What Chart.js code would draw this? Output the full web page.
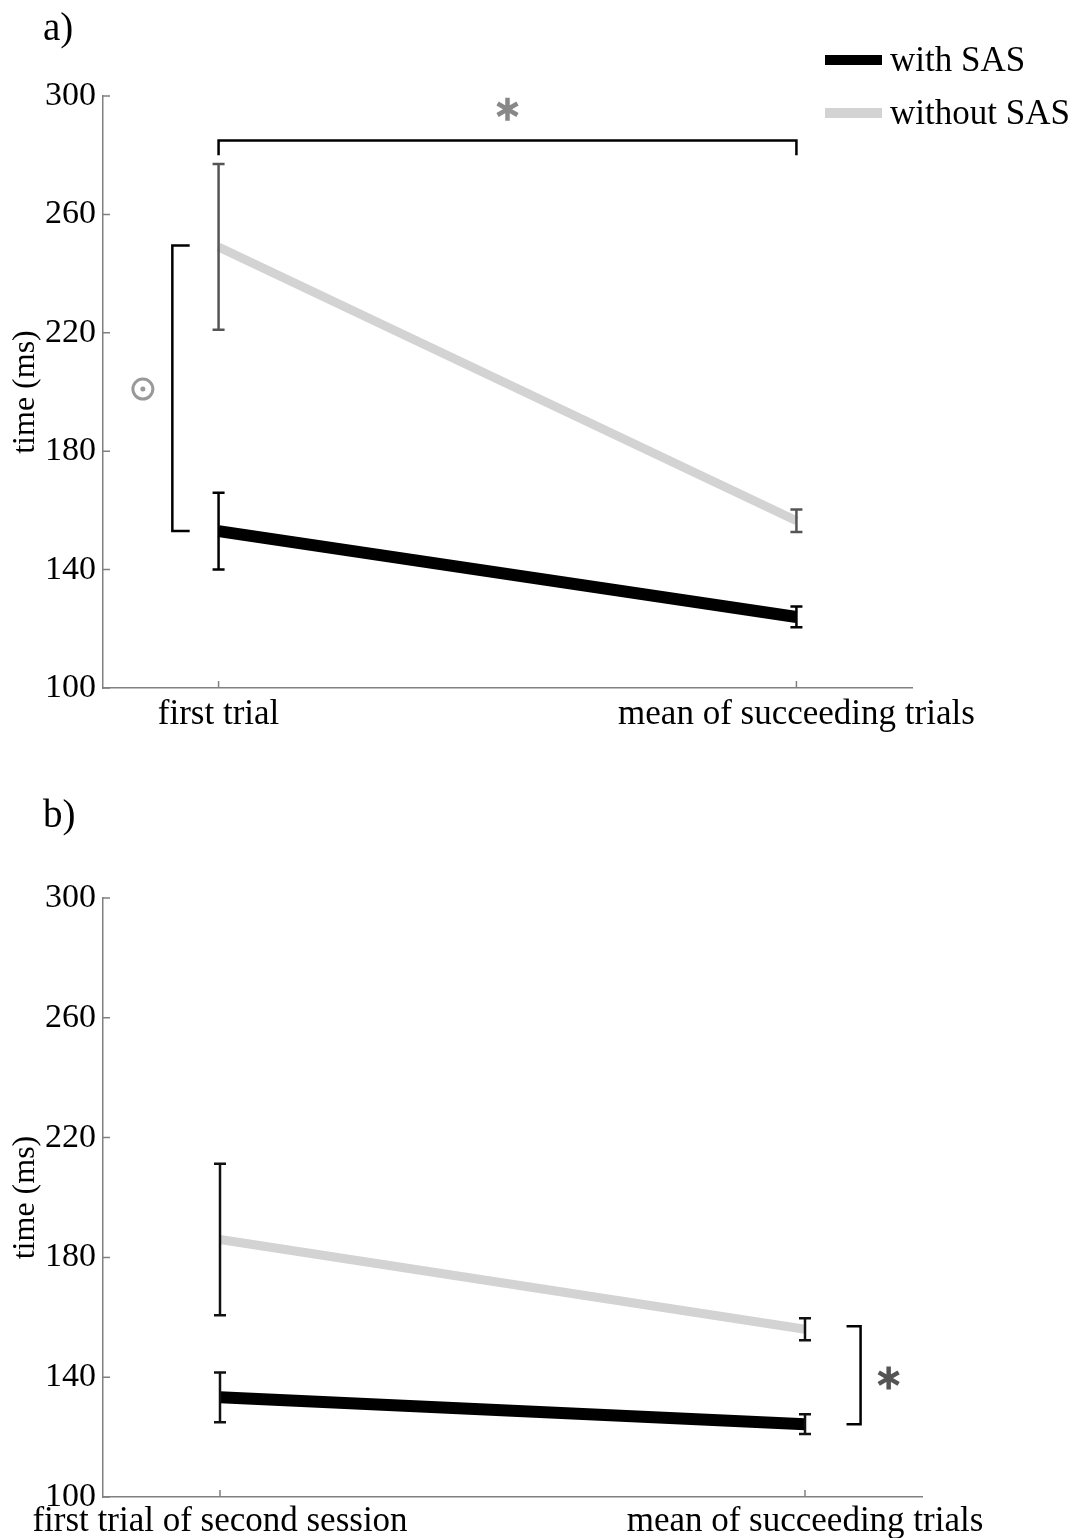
<!DOCTYPE html>
<html><head><meta charset="utf-8">
<script src="https://cdn.jsdelivr.net/npm/chart.js@4.4.0/dist/chart.umd.min.js"></script>
<style>
html,body{margin:0;padding:0;background:#fff;}
body{width:1071px;height:1538px;position:relative;overflow:hidden;font-family:"Liberation Serif","Times New Roman",serif;}
.panel{position:absolute;left:0;width:1071px;}
#wa{top:0;height:770px;}
#wb{top:770px;height:768px;}
.lab{position:absolute;left:43px;font-size:39px;line-height:1;color:#000;}
</style></head><body>
<div class="panel" id="wa"><canvas id="ca"></canvas></div>
<div class="panel" id="wb"><canvas id="cb"></canvas></div>
<div class="lab" style="top:7px">a)</div>
<div class="lab" style="top:794px">b)</div>
<script>
// ---- data ----
const seriesNames = ['with SAS', 'without SAS'];
const categoriesA = ['first trial', 'mean of succeeding trials'];
const categoriesB = ['first trial of second session', 'mean of succeeding trials'];
const xPositions = [1, 2];
const yTicks = [100, 140, 180, 220, 260, 300];

const withSAS_A = [153, 124];
const withSAS_A_err = [13, 3.5];
const withoutSAS_A = [249, 156.5];
const withoutSAS_A_err = [28, 3.8];

const withSAS_B = [133.3, 124.3];
const withSAS_B_err = [8.3, 3.3];
const withoutSAS_B = [186, 156];
const withoutSAS_B_err = [25.3, 3.7];

// ---- styling / annotations ----
const FONT = '"Liberation Serif", "Times New Roman", serif';
const AXIS = '#808080';

function pts(vals){ return vals.map((v,i)=>({x:xPositions[i], y:v})); }

function makeExtras(cfg){
  return {
    id:'extras',
    afterDatasetsDraw(chart){
      const ctx = chart.ctx, xs = chart.scales.x, ys = chart.scales.y;
      ctx.save();
      // error bars
      cfg.errors.forEach(e=>{
        ctx.strokeStyle = e.color; ctx.lineWidth = 2.5; ctx.lineCap='butt';
        e.vals.forEach((v,i)=>{
          const x = xs.getPixelForValue(xPositions[i]);
          const y1 = ys.getPixelForValue(v + e.err[i]);
          const y2 = ys.getPixelForValue(v - e.err[i]);
          ctx.beginPath();
          ctx.moveTo(x,y1); ctx.lineTo(x,y2);
          ctx.moveTo(x-6,y1); ctx.lineTo(x+6,y1);
          ctx.moveTo(x-6,y2); ctx.lineTo(x+6,y2);
          ctx.stroke();
        });
      });
      // brackets
      (cfg.brackets||[]).forEach(b=>{
        ctx.strokeStyle = '#000'; ctx.lineWidth = 2.5; ctx.lineJoin='miter';
        ctx.beginPath();
        if (b.type==='h'){
          const x1=xs.getPixelForValue(b.x1), x2=xs.getPixelForValue(b.x2);
          const y=ys.getPixelForValue(b.y), ye=ys.getPixelForValue(b.yEnd);
          ctx.moveTo(x1,ye); ctx.lineTo(x1,y); ctx.lineTo(x2,y); ctx.lineTo(x2,ye);
        } else {
          const x=xs.getPixelForValue(b.x), xe=xs.getPixelForValue(b.xEnd);
          const y1=ys.getPixelForValue(b.y1), y2=ys.getPixelForValue(b.y2);
          ctx.moveTo(xe,y1); ctx.lineTo(x,y1); ctx.lineTo(x,y2); ctx.lineTo(xe,y2);
        }
        ctx.stroke();
      });
      // asterisks
      (cfg.stars||[]).forEach(s=>{
        const cx=xs.getPixelForValue(s.x), cy=ys.getPixelForValue(s.y);
        ctx.strokeStyle=s.color; ctx.lineWidth=4.5; ctx.lineCap='butt';
        const r=11.5;
        ctx.beginPath();
        [90,30,150].forEach(a=>{
          const t=a*Math.PI/180;
          ctx.moveTo(cx-r*Math.cos(t), cy-r*Math.sin(t));
          ctx.lineTo(cx+r*Math.cos(t), cy+r*Math.sin(t));
        });
        ctx.stroke();
      });
      // circled dot
      (cfg.circles||[]).forEach(c=>{
        const cx=xs.getPixelForValue(c.x), cy=ys.getPixelForValue(c.y);
        ctx.strokeStyle=c.color; ctx.fillStyle=c.color; ctx.lineWidth=3;
        ctx.beginPath(); ctx.arc(cx,cy,10,0,Math.PI*2); ctx.stroke();
        ctx.beginPath(); ctx.arc(cx,cy,2.5,0,Math.PI*2); ctx.fill();
      });
      ctx.restore();
    },
    afterDraw(chart){
      const ctx = chart.ctx, xs = chart.scales.x, ys = chart.scales.y, ca = chart.chartArea;
      ctx.save();
      ctx.strokeStyle = AXIS; ctx.lineWidth = 1.5;
      ctx.beginPath();
      yTicks.forEach(v=>{ const y=ys.getPixelForValue(v); ctx.moveTo(ca.left,y); ctx.lineTo(ca.left+7,y); });
      xPositions.forEach(v=>{ const x=xs.getPixelForValue(v); ctx.moveTo(x,ca.bottom); ctx.lineTo(x,ca.bottom-7); });
      ctx.stroke();
      // legend
      if (cfg.legend){
        const L = cfg.legend;
        chart.data.datasets.forEach((d,i)=>{
          const y = L.y + i*L.dy;
          ctx.strokeStyle = d.borderColor; ctx.lineWidth = 10; ctx.lineCap='butt';
          ctx.beginPath(); ctx.moveTo(L.x, y); ctx.lineTo(L.x+57, y); ctx.stroke();
          ctx.fillStyle='#000'; ctx.font = '35px ' + FONT; ctx.textBaseline='middle'; ctx.textAlign='left';
          ctx.fillText(d.label, L.x+65, y+2);
        });
      }
      ctx.restore();
    }
  };
}

function makeChart(id, cats, withV, withoutV, pad, xAxisH, xPad, extras){
  return new Chart(document.getElementById(id), {
    type:'line',
    data:{datasets:[
      {label:seriesNames[0], data:pts(withV), borderColor:'#000', borderWidth:12, pointRadius:0, borderCapStyle:'butt', tension:0},
      {label:seriesNames[1], data:pts(withoutV), borderColor:'#d3d3d3', borderWidth:9, pointRadius:0, borderCapStyle:'butt', tension:0}
    ]},
    options:{
      responsive:true, maintainAspectRatio:false, animation:false,
      layout:{padding:pad},
      plugins:{legend:{display:false}, tooltip:{enabled:false}},
      scales:{
        x:{type:'linear', min:0.8, max:2.2,
          grid:{display:false, drawTicks:false},
          border:{display:true, color:AXIS, width:1.5},
          afterBuildTicks:s=>{ s.ticks = xPositions.map(v=>({value:v})); },
          ticks:{callback:(v,i)=>cats[i], font:{family:FONT, size:35}, color:'#000', padding:xPad, maxRotation:0, autoSkip:false},
          afterFit:s=>{ s.height = xAxisH; }
        },
        y:{type:'linear', min:100, max:300,
          grid:{display:false, drawTicks:false},
          border:{display:true, color:AXIS, width:1.5},
          afterBuildTicks:s=>{ s.ticks = yTicks.map(v=>({value:v})); },
          ticks:{font:{family:FONT, size:34}, color:'#000', padding:7},
          title:{display:true, text:'time (ms)', font:{family:FONT, size:32}, color:'#000', padding:{top:6, bottom:0}},
          afterFit:s=>{ s.width = 103; }
        }
      }
    },
    plugins:[makeExtras(extras)]
  });
}

makeChart('ca', categoriesA, withSAS_A, withoutSAS_A, {top:96, right:159, bottom:32, left:0}, 50, 6, {
  errors:[{vals:withSAS_A, err:withSAS_A_err, color:'#000'}, {vals:withoutSAS_A, err:withoutSAS_A_err, color:'#555'}],
  brackets:[{type:'h', x1:1, x2:2, y:285, yEnd:280}, {type:'v', x:0.92, xEnd:0.95, y1:249.5, y2:153}],
  stars:[{x:1.5, y:295.5, color:'#888'}],
  circles:[{x:0.869, y:201, color:'#999'}],
  legend:{x:825, y:60, dy:53}
});

makeChart('cb', categoriesB, withSAS_B, withoutSAS_B, {top:128, right:149, bottom:0, left:0}, 41, 4, {
  errors:[{vals:withSAS_B, err:withSAS_B_err, color:'#111'}, {vals:withoutSAS_B, err:withoutSAS_B_err, color:'#111'}],
  brackets:[{type:'v', x:2.095, xEnd:2.071, y1:157, y2:124.3}],
  stars:[{x:2.143, y:139.7, color:'#555'}]
});
</script>
</body></html>
